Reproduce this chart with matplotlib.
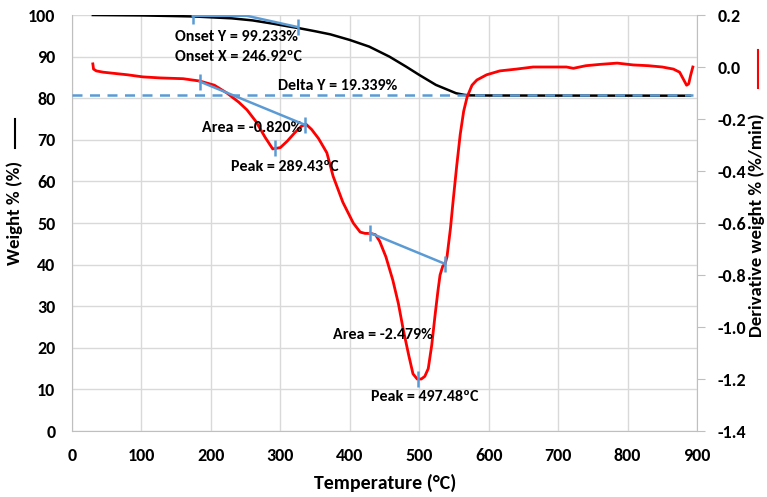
import matplotlib
matplotlib.use("Agg")
import matplotlib.pyplot as plt
from matplotlib.lines import Line2D

plt.rcParams['font.family'] = ['Carlito', 'DejaVu Sans']
plt.rcParams['font.weight'] = 'bold'
plt.rcParams['axes.labelweight'] = 'bold'

# Weight curve (left axis)
temp_w = [30, 100, 175, 230, 260, 290, 310, 328, 350, 372, 400, 428, 457, 481, 500, 524, 553, 565, 573, 600, 700, 800, 890]
weight = [100.0, 99.9, 99.65, 99.2, 98.7, 97.9, 97.3, 96.8, 96.1, 95.35, 94.0, 92.4, 90.0, 87.6, 85.6, 83.2, 81.2, 80.8, 80.68, 80.65, 80.63, 80.62, 80.6]

# Derivative curve (right axis)
temp_d = [30, 31, 35, 45, 80, 102, 127, 160, 184, 205, 223, 240, 252, 265, 278, 289, 300, 310, 320, 330, 337,
          345, 355, 367, 376, 390, 405, 415, 422, 430, 437, 443, 452, 462, 470, 477, 485, 491, 497, 503, 508,
          513, 518, 523, 527, 530, 534, 537, 540, 545, 549, 554, 559, 564, 569, 576, 583, 597, 616, 640, 664,
          690, 712, 722, 740, 760, 785, 808, 830, 850, 866, 875, 880, 885, 888, 891, 894]
deriv = [0.012, -0.008, -0.015, -0.02, -0.03, -0.038, -0.042, -0.045, -0.054, -0.07, -0.1, -0.135, -0.165, -0.21, -0.27, -0.315, -0.31, -0.285, -0.255, -0.228, -0.22,
         -0.24, -0.275, -0.33, -0.42, -0.52, -0.6, -0.635, -0.64, -0.64, -0.645, -0.67, -0.73, -0.82, -0.91, -1.01, -1.11, -1.18, -1.2, -1.2, -1.19,
         -1.16, -1.07, -0.95, -0.86, -0.8, -0.765, -0.76, -0.73, -0.62, -0.51, -0.38, -0.26, -0.17, -0.115, -0.07, -0.05, -0.03, -0.015, -0.008, 0.0,
         0.0, 0.0, -0.005, 0.005, 0.01, 0.015, 0.008, 0.005, 0.0, -0.008, -0.02, -0.045, -0.07, -0.065, -0.03, 0.0]

# Annotation constructs
onset_x = [174, 252, 325]
onset_y = [99.8, 99.8, 97.1]
delta_level = 80.7
base1_x = [184, 336]
base1_y = [-0.056, -0.223]
peak1 = (292, -0.31)
base2_x = [429, 537]
base2_y = [-0.638, -0.757]
peak2 = (498, -1.2)

x_ticks = [0, 100, 200, 300, 400, 500, 600, 700, 800, 900]
y_ticks = [0, 10, 20, 30, 40, 50, 60, 70, 80, 90, 100]
y2_ticks = [0.2, 0.0, -0.2, -0.4, -0.6, -0.8, -1.0, -1.2, -1.4]

blue = '#5b9bd5'
grid = '#d9d9d9'

fig = plt.figure(figsize=(7.67, 4.97), dpi=100)
ax = fig.add_axes([72/767, 1-431/497, 625/767, 416/497])
ax2 = ax.twinx()

ax.set_xlim(0, 900)
ax.set_ylim(0, 100)
ax2.set_ylim(-1.4, 0.2)
ax.set_xticks(x_ticks)
ax.set_yticks(y_ticks)
ax2.set_yticks(y2_ticks)
ax2.set_yticklabels([f"{v:.1f}" for v in y2_ticks])
ax.grid(True, color=grid, linewidth=1)
ax.set_axisbelow(True)
ax.spines['top'].set_visible(False)
ax2.spines['top'].set_visible(False)
ax.spines['right'].set_visible(False)
ax2.spines['left'].set_visible(False)
ax2.spines['bottom'].set_visible(False)
ax.spines['left'].set_color('#bfbfbf')
ax.spines['bottom'].set_color('#bfbfbf')
ax2.spines['right'].set_color('#bfbfbf')
ax.tick_params(axis='x', length=0, labelsize=13, pad=12)
ax.tick_params(axis='y', length=0, labelsize=13, pad=12)
ax2.tick_params(axis='y', length=6, color='#bfbfbf', labelsize=13, pad=9)

ax.plot(temp_w, weight, color='black', linewidth=1.8, zorder=3)
ax.plot([0, 894], [delta_level, delta_level], color=blue, linewidth=1.8, linestyle=(0, (4, 3)), zorder=4)
ax.plot(onset_x, onset_y, color=blue, linewidth=1.8, zorder=4)
ax.plot([onset_x[0], onset_x[-1]], [onset_y[0], onset_y[-1]], linestyle='none', marker='|',
        markersize=12, markeredgewidth=1.8, color=blue, zorder=5)

ax2.plot(temp_d, deriv, color='red', linewidth=2, zorder=3)
for bx, by in [(base1_x, base1_y), (base2_x, base2_y)]:
    ax2.plot(bx, by, color=blue, linewidth=1.8, marker='|', markersize=12, markeredgewidth=1.8, zorder=4)
for px, py in [peak1, peak2]:
    ax2.plot([px], [py], linestyle='none', marker='|', markersize=12, markeredgewidth=1.8, color=blue, zorder=4)

fs = 11.5
ax.text(148, 94.6, "Onset Y = 99.233%", fontsize=fs, va='center', ha='left')
ax.text(148, 90.0, "Onset X = 246.92\u00baC", fontsize=fs, va='center', ha='left')
ax.text(297, 82.9, "Delta Y = 19.339%", fontsize=fs, va='center', ha='left')
ax2.text(187, -0.236, "Area = -0.820%", fontsize=fs, va='center', ha='left')
ax2.text(229, -0.383, "Peak = 289.43\u00baC", fontsize=fs, va='center', ha='left')
ax2.text(376, -1.031, "Area = -2.479%", fontsize=fs, va='center', ha='left')
ax2.text(431, -1.27, "Peak = 497.48\u00baC", fontsize=fs, va='center', ha='left')

fig.text(385/767, 1-483/497, "Temperature (\u00b0C)", fontsize=14.3, ha='center', va='center')
fig.text(15/767, 1-213/497, "Weight % (%)", rotation=90, fontsize=13.5, ha='center', va='center')
fig.add_artist(Line2D([15/767, 15/767], [1-148/497, 1-119/497], color='black', linewidth=1.5))
fig.text(757/767, 1-225/497, "Derivative weight % (%/min)", rotation=90, fontsize=13.5, ha='center', va='center')
fig.add_artist(Line2D([758/767, 758/767], [1-88/497, 1-50/497], color='red', linewidth=1.5))

fig.savefig("out.png", dpi=100)
